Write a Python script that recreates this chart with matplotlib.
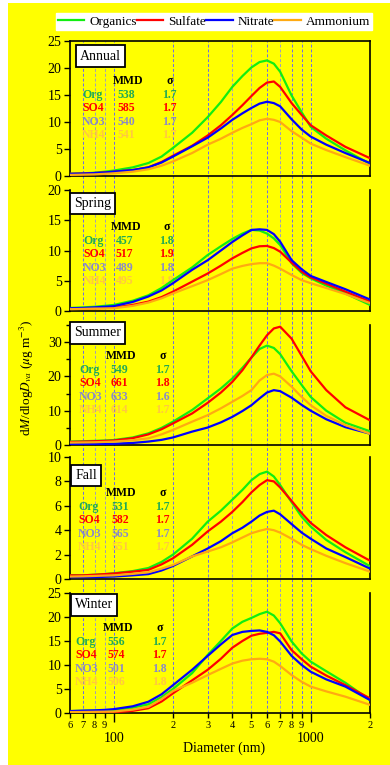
import numpy as np
import matplotlib.pyplot as plt
from matplotlib.patches import Rectangle

plt.rcParams['font.family'] = ['Liberation Serif', 'DejaVu Serif']
plt.rcParams['mathtext.fontset'] = 'stix'

# --- data ---
diam = [60, 70, 80, 90, 100, 125, 150, 175, 200, 250, 300, 350, 400, 450,
        500, 550, 600, 650, 700, 800, 900, 1000, 1200, 1500, 2000]

seasons = ['Annual', 'Spring', 'Summer', 'Fall', 'Winter']
species = ['Organics', 'Sulfate', 'Nitrate', 'Ammonium']
short_names = ['Org', 'SO4', 'NO3', 'NH4']

annual_org = [0.4, 0.5, 0.6, 0.8, 1.0, 1.6, 2.4, 3.6, 5.2, 8.0, 10.9, 13.7, 16.5, 18.5, 20.1, 21.1, 21.4, 20.8, 19.3, 14.9, 11.8, 9.1, 6.9, 4.75, 2.25]
annual_so4 = [0.4, 0.45, 0.55, 0.65, 0.8, 1.1, 1.6, 2.6, 3.75, 5.6, 7.5, 9.4, 11.3, 13.1, 14.8, 16.3, 17.3, 17.5, 16.5, 13.5, 11.3, 9.4, 7.5, 5.4, 3.3]
annual_no3 = [0.4, 0.45, 0.55, 0.65, 0.8, 1.1, 1.6, 2.5, 3.6, 5.5, 7.1, 8.8, 10.4, 11.6, 12.6, 13.4, 13.75, 13.5, 12.9, 10.5, 8.6, 7.3, 5.8, 4.25, 2.4]
annual_nh4 = [0.2, 0.25, 0.3, 0.4, 0.5, 0.8, 1.25, 1.9, 2.7, 4.25, 5.8, 6.9, 8.0, 8.9, 9.6, 10.3, 10.6, 10.4, 10.0, 8.3, 7.1, 6.0, 4.8, 3.5, 1.9]

spring_org = [0.5, 0.6, 0.7, 0.85, 1.0, 1.7, 2.6, 3.8, 5.1, 7.2, 9.25, 10.7, 11.9, 12.8, 13.4, 13.3, 12.8, 12.0, 10.9, 7.9, 6.3, 5.4, 4.2, 2.9, 1.0]
spring_so4 = [0.35, 0.4, 0.45, 0.5, 0.55, 1.0, 1.55, 2.3, 3.2, 4.85, 6.2, 7.5, 8.7, 9.6, 10.35, 10.7, 10.75, 10.4, 9.8, 8.0, 6.5, 5.55, 4.5, 3.2, 1.55]
spring_no3 = [0.45, 0.5, 0.6, 0.7, 0.8, 1.5, 2.4, 3.4, 4.6, 6.8, 8.4, 10.0, 11.4, 12.5, 13.4, 13.5, 13.4, 12.7, 11.45, 8.4, 6.9, 5.8, 4.8, 3.6, 1.9]
spring_nh4 = [0.3, 0.35, 0.4, 0.42, 0.45, 0.85, 1.4, 2.1, 2.9, 4.1, 5.1, 6.1, 7.0, 7.45, 7.75, 7.9, 7.9, 7.5, 7.0, 5.95, 5.1, 4.6, 3.8, 2.8, 1.3]

summer_org = [1.0, 1.1, 1.2, 1.3, 1.45, 2.2, 3.4, 5.0, 6.8, 10.2, 13.6, 16.5, 19.4, 22.5, 25.5, 28.0, 29.0, 28.3, 26.5, 21.5, 17.5, 14.0, 10.0, 6.5, 4.0]
summer_so4 = [0.9, 1.0, 1.1, 1.2, 1.3, 2.0, 3.1, 4.6, 6.3, 9.2, 12.3, 15.3, 18.4, 21.8, 25.5, 29.0, 32.0, 34.0, 34.5, 31.0, 26.0, 21.5, 16.0, 11.0, 7.2]
summer_no3 = [0.3, 0.3, 0.3, 0.3, 0.35, 0.6, 1.0, 1.5, 2.2, 3.9, 5.1, 6.6, 8.2, 9.9, 11.6, 13.6, 15.3, 16.0, 15.7, 13.8, 11.7, 10.0, 7.5, 5.2, 3.3]
summer_nh4 = [0.7, 0.75, 0.8, 0.9, 1.0, 1.4, 1.95, 3.1, 4.4, 6.8, 8.7, 10.7, 12.6, 14.3, 16.0, 18.8, 20.4, 20.8, 20.0, 17.0, 14.0, 11.6, 8.5, 5.8, 3.3]

fall_org = [0.3, 0.3, 0.35, 0.4, 0.47, 0.65, 0.9, 1.4, 2.0, 3.3, 4.7, 5.6, 6.5, 7.3, 8.1, 8.6, 8.8, 8.4, 7.7, 6.3, 5.1, 4.3, 3.2, 2.2, 1.05]
fall_so4 = [0.3, 0.3, 0.35, 0.4, 0.45, 0.6, 0.75, 1.2, 1.7, 2.8, 3.9, 4.7, 5.5, 6.3, 7.1, 7.7, 8.1, 8.0, 7.5, 6.4, 5.4, 4.6, 3.6, 2.6, 1.5]
fall_no3 = [0.15, 0.15, 0.15, 0.18, 0.2, 0.3, 0.4, 0.7, 1.07, 1.85, 2.5, 3.1, 3.75, 4.2, 4.7, 5.2, 5.5, 5.6, 5.3, 4.5, 3.8, 3.3, 2.5, 1.8, 0.85]
fall_nh4 = [0.2, 0.22, 0.25, 0.28, 0.3, 0.42, 0.55, 0.85, 1.15, 1.85, 2.25, 2.6, 3.0, 3.4, 3.75, 3.95, 4.1, 4.0, 3.8, 3.3, 2.8, 2.45, 1.9, 1.3, 0.6]

winter_org = [0.4, 0.45, 0.5, 0.55, 0.6, 1.1, 1.8, 3.3, 5.0, 8.3, 12.1, 15.0, 17.6, 19.0, 19.8, 20.6, 21.1, 20.3, 18.7, 14.9, 12.4, 10.7, 8.7, 6.3, 2.7]
winter_so4 = [0.15, 0.15, 0.15, 0.15, 0.15, 0.45, 1.0, 2.4, 4.1, 6.8, 9.0, 11.3, 13.6, 15.0, 16.1, 16.5, 16.7, 16.9, 16.6, 13.1, 11.2, 9.65, 7.8, 5.8, 3.05]
winter_no3 = [0.4, 0.5, 0.55, 0.65, 0.8, 1.4, 2.35, 3.9, 5.8, 9.0, 11.9, 14.3, 16.25, 16.9, 17.1, 17.2, 16.9, 16.2, 14.9, 11.9, 10.0, 8.6, 7.0, 5.5, 2.7]
winter_nh4 = [0.2, 0.22, 0.25, 0.28, 0.3, 0.7, 1.3, 2.9, 4.6, 6.3, 7.9, 9.2, 10.3, 10.9, 11.2, 11.3, 11.2, 10.7, 9.8, 7.9, 6.5, 5.5, 4.5, 3.4, 1.7]

annual_mmd = [538, 585, 540, 541]
spring_mmd = [457, 517, 489, 495]
summer_mmd = [549, 661, 633, 614]
fall_mmd = [531, 582, 565, 551]
winter_mmd = [556, 574, 501, 506]

annual_sigma = [1.7, 1.7, 1.7, 1.7]
spring_sigma = [1.8, 1.9, 1.8, 1.8]
summer_sigma = [1.7, 1.8, 1.6, 1.7]
fall_sigma = [1.7, 1.7, 1.7, 1.7]
winter_sigma = [1.7, 1.7, 1.8, 1.8]

series = [
    [annual_org, annual_so4, annual_no3, annual_nh4],
    [spring_org, spring_so4, spring_no3, spring_nh4],
    [summer_org, summer_so4, summer_no3, summer_nh4],
    [fall_org, fall_so4, fall_no3, fall_nh4],
    [winter_org, winter_so4, winter_no3, winter_nh4],
]
mmds = [annual_mmd, spring_mmd, summer_mmd, fall_mmd, winter_mmd]
sigmas = [annual_sigma, spring_sigma, summer_sigma, fall_sigma, winter_sigma]

ymax = [25, 20, 35, 10, 25]
ystep = [5, 5, 10, 2, 5]

line_colors = ['#11ee11', '#ff0000', '#0000ff', '#ffaa11']
text_colors = ['#22aa55', '#ff0000', '#8a8ac8', '#ffc840']

# --- layout (pixels of a 390x765 figure) ---
W, H = 390.0, 765.0
x_left, x_right = 70, 370
panel_px = [(41, 176), (190, 311), (325, 445), (457, 579), (593, 713)]
label_xy = [(100.5, 56), (92.5, 203.5), (97.5, 333), (86, 475.5), (94, 605)]
# org text left, MMD centre, sigma centre, header y
table_xy = [(82, 128, 170, 81), (83, 126, 167, 227), (79, 121, 163, 356),
            (78, 121.5, 163, 493), (75, 118, 160, 628)]
row_dy = 13.4

grid_blue = [70, 100, 200, 300, 600, 800, 900, 1000]
grid_grey = [80, 90, 400, 500, 700]
minor_ticks = [60, 70, 80, 90, 200, 300, 400, 500, 600, 700, 800, 900, 2000]
minor_labels = ['6', '7', '8', '9', '2', '3', '4', '5', '6', '7', '8', '9', '2']

fig = plt.figure(figsize=(W / 100, H / 100), dpi=100)
fig.patch.set_facecolor('white')
fig.patches.append(Rectangle((8 / W, 0), 1 - 8 / W, 1 - 3 / H,
                             transform=fig.transFigure, facecolor='#ffff00',
                             edgecolor='none', zorder=-10))


def fx(px):
    return px / W


def fy(py):
    return 1 - py / H


# dashed vertical guides behind the whole stack
ax_bg = fig.add_axes([fx(x_left), fy(panel_px[-1][1]), fx(x_right - x_left),
                      (panel_px[-1][1] - panel_px[0][0]) / H])
ax_bg.set_xscale('log')
ax_bg.set_xlim(60, 2000)
ax_bg.set_ylim(0, 1)
ax_bg.axis('off')
for g in grid_blue:
    ax_bg.axvline(g, color='#6a6af0', lw=0.7, ls=(0, (3, 2)))
for g in grid_grey:
    ax_bg.axvline(g, color='#9c9cc0', lw=0.7, ls=(0, (3, 2)))

axes = []
for i, (top, bot) in enumerate(panel_px):
    ax = fig.add_axes([fx(x_left), fy(bot), fx(x_right - x_left), (bot - top) / H])
    ax.set_facecolor('none')
    handles = []
    for j in range(4):
        h, = ax.plot(diam, series[i][j], color=line_colors[j], lw=1.6,
                     label=species[j], zorder=3)
        handles.append(h)
    ax.set_xscale('log')
    ax.set_xlim(60, 2000)
    ax.set_ylim(0, ymax[i])
    ax.set_yticks(np.arange(0, ymax[i] + 0.01, ystep[i]))
    if i == 2:
        ax.set_yticks(np.arange(0, ymax[i] + 0.01, 5), minor=True)
        ax.tick_params(axis='y', which='minor', length=3, width=1.0, direction='out')
    ax.tick_params(axis='y', which='major', length=4.5, width=1.0,
                   direction='out', labelsize=10, pad=1.5)
    for s in ['left', 'bottom', 'right', 'top']:
        ax.spines[s].set_linewidth(1.2)
    ax.spines['top'].set_visible(i == 0)

    ax.set_xticks([100, 1000])
    ax.set_xticks(minor_ticks, minor=True)
    if i == len(panel_px) - 1:
        ax.set_xticklabels(['100', '1000'])
        ax.set_xticklabels(minor_labels, minor=True)
        ax.tick_params(axis='x', which='major', length=6.5, width=1.0,
                       direction='out', labelsize=10, pad=7.5)
        ax.tick_params(axis='x', which='minor', length=3.6, width=1.0,
                       direction='out', labelsize=7.5, pad=2.5)
    else:
        ax.tick_params(axis='x', which='both', length=0,
                       labelbottom=False)
    axes.append(ax)

    # season label
    lx, ly = label_xy[i]
    ax.text(fx(lx), fy(ly), seasons[i], transform=fig.transFigure,
            ha='center', va='center', fontsize=10, zorder=5,
            bbox=dict(boxstyle='square,pad=0.3', fc='white', ec='black', lw=1.3))

    # MMD / sigma table
    ox, mx, sx, hy = table_xy[i]
    ax.text(fx(mx), fy(hy), 'MMD', transform=fig.transFigure, ha='center',
            va='center', fontsize=8.5, fontweight='bold', zorder=1)
    ax.text(fx(sx), fy(hy), 'σ', transform=fig.transFigure, ha='center',
            va='center', fontsize=8.5, fontweight='bold', zorder=1)
    for j in range(4):
        ry = hy + 14 + j * row_dy
        ax.text(fx(ox), fy(ry), short_names[j], transform=fig.transFigure,
                ha='left', va='center', fontsize=8.5, fontweight='bold',
                color=text_colors[j], zorder=1)
        ax.text(fx(mx - 1.5), fy(ry), str(mmds[i][j]), transform=fig.transFigure,
                ha='center', va='center', fontsize=8.5, fontweight='bold',
                color=text_colors[j], zorder=1)
        ax.text(fx(sx - 1), fy(ry), f'{sigmas[i][j]:.1f}', transform=fig.transFigure,
                ha='center', va='center', fontsize=8.5, fontweight='bold',
                color=text_colors[j], zorder=1)

fig.legend(handles, species, loc='center', bbox_to_anchor=(fx(214), fy(21.5)),
           ncol=4, frameon=True, facecolor='white', edgecolor='white',
           framealpha=1, fancybox=False, handlelength=2.0, handletextpad=0.4,
           columnspacing=0.0, borderpad=0.15, borderaxespad=0, fontsize=9.5)

fig.text(fx(27), fy(378), r'd$M$/dlog$D_{va}$ ($\mu$g m$^{-3}$)', rotation=90,
         ha='center', va='center', fontsize=9.5)
fig.text(fx(224), fy(748), 'Diameter (nm)', ha='center', va='center', fontsize=10)

fig.savefig('out.png', dpi=100, facecolor=fig.get_facecolor())
